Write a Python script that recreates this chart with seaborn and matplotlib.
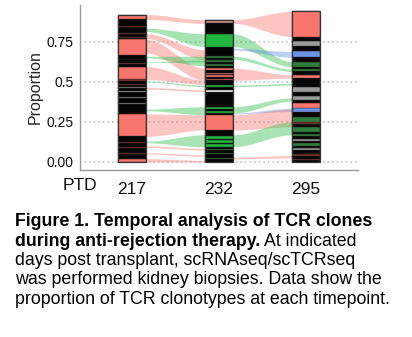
import numpy as np
import pandas as pd
import seaborn as sns
import matplotlib
matplotlib.use("Agg")
import matplotlib.pyplot as plt

# ---------------- data ----------------
timepoints = ["217", "232", "295"]

# clone segments per timepoint, bottom -> top (heights = proportion)
h217 = [0.02, 0.03, 0.006, 0.034, 0.006, 0.024, 0.006, 0.034, 0.14, 0.06, 0.006, 0.034,
        0.006, 0.028, 0.012, 0.014, 0.006, 0.012, 0.008, 0.022, 0.007, 0.08, 0.015, 0.006,
        0.024, 0.006, 0.024, 0.095, 0.01, 0.006, 0.02, 0.006, 0.033, 0.006, 0.044, 0.03]
c217 = ["S", "K", "r", "K", "r", "K", "r", "K", "S", "K", "y", "K",
        "y", "K", "w", "K", "y", "K", "r", "K", "r", "S", "K", "r",
        "K", "r", "K", "S", "K", "r", "K", "r", "K", "r", "K", "S"]

h232 = [0.02, 0.008, 0.022, 0.006, 0.02, 0.006, 0.013, 0.015, 0.01, 0.015, 0.01, 0.015,
        0.04, 0.095, 0.01, 0.015, 0.01, 0.015, 0.085, 0.008, 0.014, 0.018, 0.01, 0.03,
        0.01, 0.01, 0.01, 0.008, 0.01, 0.017, 0.01, 0.015, 0.01, 0.015, 0.01, 0.015,
        0.01, 0.06, 0.08, 0.065, 0.023]
c232 = ["K", "g", "K", "g", "K", "g", "K", "G", "K", "G", "K", "G",
        "K", "S", "K", "G", "K", "G", "K", "K", "W", "K", "G", "K",
        "S", "K", "S", "r", "S", "K", "S", "K", "g", "K", "g", "K",
        "g", "K", "G", "K", "P"]

h295 = [0.01, 0.008, 0.022, 0.008, 0.027, 0.015, 0.01, 0.02, 0.01, 0.015, 0.02, 0.01,
        0.015, 0.03, 0.015, 0.015, 0.033, 0.032, 0.02, 0.032, 0.023, 0.02, 0.03, 0.027,
        0.056, 0.021, 0.021, 0.015, 0.015, 0.032, 0.027, 0.036, 0.035, 0.033, 0.025, 0.157]
c295 = ["K", "r", "K", "r", "K", "y", "K", "g", "K", "y", "K", "g",
        "K", "g", "K", "r", "g", "K", "B", "S", "K", "y", "K", "y",
        "K", "S", "K", "g", "K", "g", "K", "B", "K", "y", "K", "S"]

# flows between consecutive timepoints (step 0: 217->232, step 1: 232->295)
flow_step   = [0, 0, 0, 0, 0, 0, 0, 0, 0, 0, 0, 0, 0, 0, 0,
               1, 1, 1, 1, 1, 1, 1, 1, 1, 1, 1]
flow_kind   = ["S", "G", "S", "S", "G", "G", "S", "G", "S", "G", "S", "G", "S", "S", "S",
               "S", "G", "B", "G", "S", "G", "G", "B", "S", "G", "S"]
flow_src_lo = [0.89, 0.815, 0.77, 0.68, 0.65, 0.62, 0.515, 0.50, 0.455, 0.32, 0.16, 0.12, 0.09, 0.05, 0.0,
               0.865, 0.72, 0.70, 0.64, 0.51, 0.47, 0.305, 0.30, 0.20, 0.095, 0.02]
flow_src_hi = [0.92, 0.835, 0.80, 0.765, 0.66, 0.625, 0.595, 0.505, 0.465, 0.33, 0.30, 0.13, 0.10, 0.058, 0.02,
               0.888, 0.80, 0.71, 0.66, 0.585, 0.48, 0.345, 0.305, 0.295, 0.17, 0.03]
flow_dst_lo = [0.865, 0.72, 0.64, 0.51, 0.60, 0.625, 0.485, 0.47, 0.44, 0.295, 0.20, 0.095, 0.075, 0.035, 0.0,
               0.783, 0.595, 0.654, 0.565, 0.523, 0.48, 0.38, 0.315, 0.22, 0.17, 0.025]
flow_dst_hi = [0.888, 0.80, 0.70, 0.585, 0.66, 0.635, 0.51, 0.48, 0.45, 0.345, 0.295, 0.17, 0.085, 0.045, 0.01,
               0.94, 0.627, 0.69, 0.58, 0.544, 0.49, 0.40, 0.335, 0.33, 0.25, 0.04]

yticks = [0.0, 0.25, 0.5, 0.75]
ytick_labels = ["0.00", "0.25", "0.5", "0.75"]

# ---------------- style ----------------
sns.set_theme(style="white")
plt.rcParams["font.family"] = ["Liberation Sans", "DejaVu Sans"]

seg_colors = {"S": "#F8766D", "K": "#050505", "r": "#7A2C2C", "y": "#9A9A9A", "w": "#C8C8C8",
              "G": "#1EB83C", "g": "#2E7D3A", "B": "#6B93E6", "W": "#FFFFFF", "P": "#CF8A84"}
flow_colors = {"S": "#F8766D", "G": "#2DBE4A", "B": "#5D8BE8"}

fig = plt.figure(figsize=(4.12, 3.37), dpi=100)
ax = fig.add_axes([80 / 412, 1 - 170 / 337, 278 / 412, 165 / 337])

bar_w = 0.33
xs = np.arange(len(timepoints))

# grid (dotted)
for yt in yticks:
    ax.axhline(yt, color="#BDBDBD", lw=1.1, ls=(0, (1, 2)), zorder=0)

# flows
df_flow = pd.DataFrame(dict(step=flow_step, kind=flow_kind, a0=flow_src_lo, a1=flow_src_hi,
                            b0=flow_dst_lo, b1=flow_dst_hi))
t = np.linspace(0, 1, 60)
s = t * t * (3 - 2 * t)
for _, f in df_flow.iterrows():
    x0 = f.step + bar_w / 2
    x1 = f.step + 1 - bar_w / 2
    xx = x0 + (x1 - x0) * t
    lo = f.a0 + (f.b0 - f.a0) * s
    hi = f.a1 + (f.b1 - f.a1) * s
    ax.fill_between(xx, lo, hi, color=flow_colors[f.kind], alpha=0.42, lw=0, zorder=1)

# bars
for xi, (hs, cs) in enumerate([(h217, c217), (h232, c232), (h295, c295)]):
    hs = np.array(hs)
    bottoms = np.concatenate([[0], np.cumsum(hs)[:-1]])
    ax.bar([xi] * len(hs), hs, bottom=bottoms, width=bar_w,
           color=[seg_colors[c] for c in cs], edgecolor="#2a2a2a", linewidth=0.25, zorder=2)
    ax.bar(xi, hs.sum(), width=bar_w, fill=False, edgecolor="#333333", linewidth=0.9, zorder=3)

ax.set_xlim(-0.6, 2.6)
ax.set_ylim(-0.05, 0.98)
ax.set_xticks(xs)
ax.set_xticklabels(timepoints, fontsize=12.5)
ax.set_yticks(yticks)
ax.set_yticklabels(ytick_labels, fontsize=10)
ax.set_ylabel("Proportion", fontsize=11.5, labelpad=3)
ax.tick_params(axis="both", length=2, width=0.8, color="#888888", pad=2.5, labelcolor="#111111")
ax.tick_params(axis="x", length=0, pad=9)
for side in ["top", "right"]:
    ax.spines[side].set_visible(False)
for side in ["left", "bottom"]:
    ax.spines[side].set_color("#9A9A9A")
    ax.spines[side].set_linewidth(1.0)

ax.annotate("PTD", xy=(0, 0), xycoords="axes fraction", xytext=(0, -16 * 0.72),
            textcoords="offset points", ha="center", va="center", fontsize=12.5, color="#111111")

# caption
fs = 12.8
x0 = 15 / 412
base = [226, 245.5, 265, 284.5, 304]
fig.text(x0, 1 - base[0] / 337, "Figure 1. Temporal analysis of TCR clones", fontsize=fs,
         fontweight="bold", va="baseline", ha="left", color="black")
tb = fig.text(x0, 1 - base[1] / 337, "during anti-rejection therapy.", fontsize=fs,
              fontweight="bold", va="baseline", ha="left", color="black")
fig.canvas.draw()
bb = tb.get_window_extent(renderer=fig.canvas.get_renderer())
fig.text((bb.x1 + 4) / fig.bbox.width, 1 - base[1] / 337, "At indicated", fontsize=fs,
         va="baseline", ha="left", color="black")
for line, b in zip(["days post transplant, scRNAseq/scTCRseq",
                    "was performed kidney biopsies. Data show the",
                    "proportion of TCR clonotypes at each timepoint."], base[2:]):
    fig.text(x0, 1 - b / 337, line, fontsize=fs, va="baseline", ha="left", color="black")

fig.savefig("out.png", dpi=100)
